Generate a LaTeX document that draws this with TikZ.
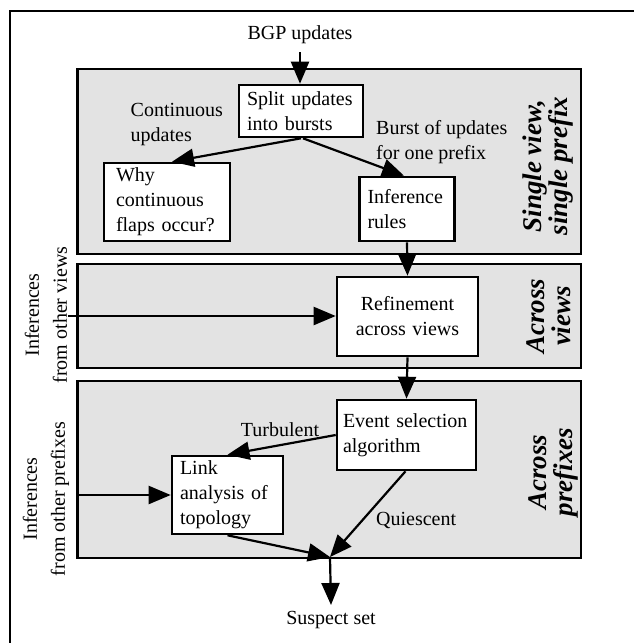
\documentclass[tikz,border=0pt]{standalone}
\usepackage{fontspec}
\setmainfont{Liberation Serif}
\usetikzlibrary{arrows.meta,calc}
\definecolor{panelgray}{RGB}{227,227,227}
\tikzset{
  panel/.style={draw, fill=panelgray, line width=2.6pt},
  box/.style={draw, fill=white, line width=2.6pt, inner ysep=0pt, align=left},
  arr/.style={line width=2.2pt, -{Triangle[length=22pt,width=18pt]}},
  txt/.style={font=\fontsize{20}{25}\selectfont, inner sep=0pt},
  side/.style={rotate=90, align=center, inner sep=0pt, font=\bfseries\itshape\fontsize{27}{26}\selectfont},
  leftlab/.style={rotate=90, align=center, inner sep=0pt, font=\fontsize{20}{28}\selectfont}
}
\begin{document}
\begin{tikzpicture}[x=1pt,y=-1pt, font=\fontsize{20}{25}\selectfont]
\path[use as bounding box] (0,0) rectangle (634,643);
\begin{scope}
\clip (0,0) rectangle (634,643);
\draw[line width=2.4pt] (10,11) rectangle (660,670);
\end{scope}
% panels
\draw[panel] (77.5,69) rectangle (581,254);
\draw[panel] (77.5,264) rectangle (581,368);
\draw[panel] (77.5,381) rectangle (581,558);
% boxes
\node[box, text width=108pt, inner xsep=8pt, minimum height=52pt] (split) at (301,111) {Split updates\\into bursts};
\node[box, text width=102pt, inner xsep=12pt, minimum height=78pt] (why) at (167,202) {Why\\continuous\\flaps occur?};
\node[box, text width=79pt, inner xsep=8pt, minimum height=64pt] (infer) at (407,209) {Inference\\rules};
\node[box, text width=125pt, inner xsep=8pt, minimum height=79pt, align=center] (refine) at (407.5,316.5) {Refinement\\across views};
\node[box, text width=127pt, inner xsep=6pt, minimum height=70pt] (event) at (406.5,435) {Event selection\\algorithm};
\node[box, text width=95pt, inner xsep=8pt, minimum height=78pt] (link) at (227.5,495) {Link\\analysis of\\topology};
% texts
\node[txt] (bgp) at (300,35) {BGP updates};
\node[txt, align=left, anchor=west] (cont) at (130.5,125) {Continuous\\updates};
\node[txt, align=left, anchor=west] (burst) at (376,142) {Burst of updates\\for one prefix};
\node[txt] (turb) at (280,430) {Turbulent};
\node[txt, anchor=west] (quie) at (376,520) {Quiescent};
\node[txt] (susp) at (331,620) {Suspect set};
\node[side] (s1) at (548,166) {Single view,\\single prefix};
\node[side] (s2) at (549,316) {Across\\views};
\node[side] (s3) at (553,472) {Across\\prefixes};
\node[leftlab] (l1) at (46,315) {Inferences\\from other views};
\node[leftlab] (l2) at (46,499) {Inferences\\from other prefixes};
% coordinates
\coordinate (bgptop) at (300,52);
\coordinate (viewsin) at (68,316);
\coordinate (prefin) at (77.5,495);
\coordinate (merge) at (330,557);
\coordinate (out) at (331,605);
% connectors
\draw[arr] (bgptop) -- (split.north -| bgptop);
\draw[arr] (split.south) -- ([xshift=5pt]why.north);
\draw[arr] ([xshift=2pt]split.south) -- ([xshift=-3pt]infer.north);
\draw[arr] (infer.south) -- (refine.north);
\draw[arr] (refine.south) -- (event.north);
\draw[arr] (viewsin) -- (viewsin -| refine.west);
\draw[arr] (event.west) -- (link.north);
\draw[arr] (prefin) -- (prefin -| link.west);
\draw[arr] ([xshift=-1pt]event.south) -- (merge);
\draw[arr] (link.south) -- (merge);
\draw[arr] (merge) -- (out);
\end{tikzpicture}
\end{document}
